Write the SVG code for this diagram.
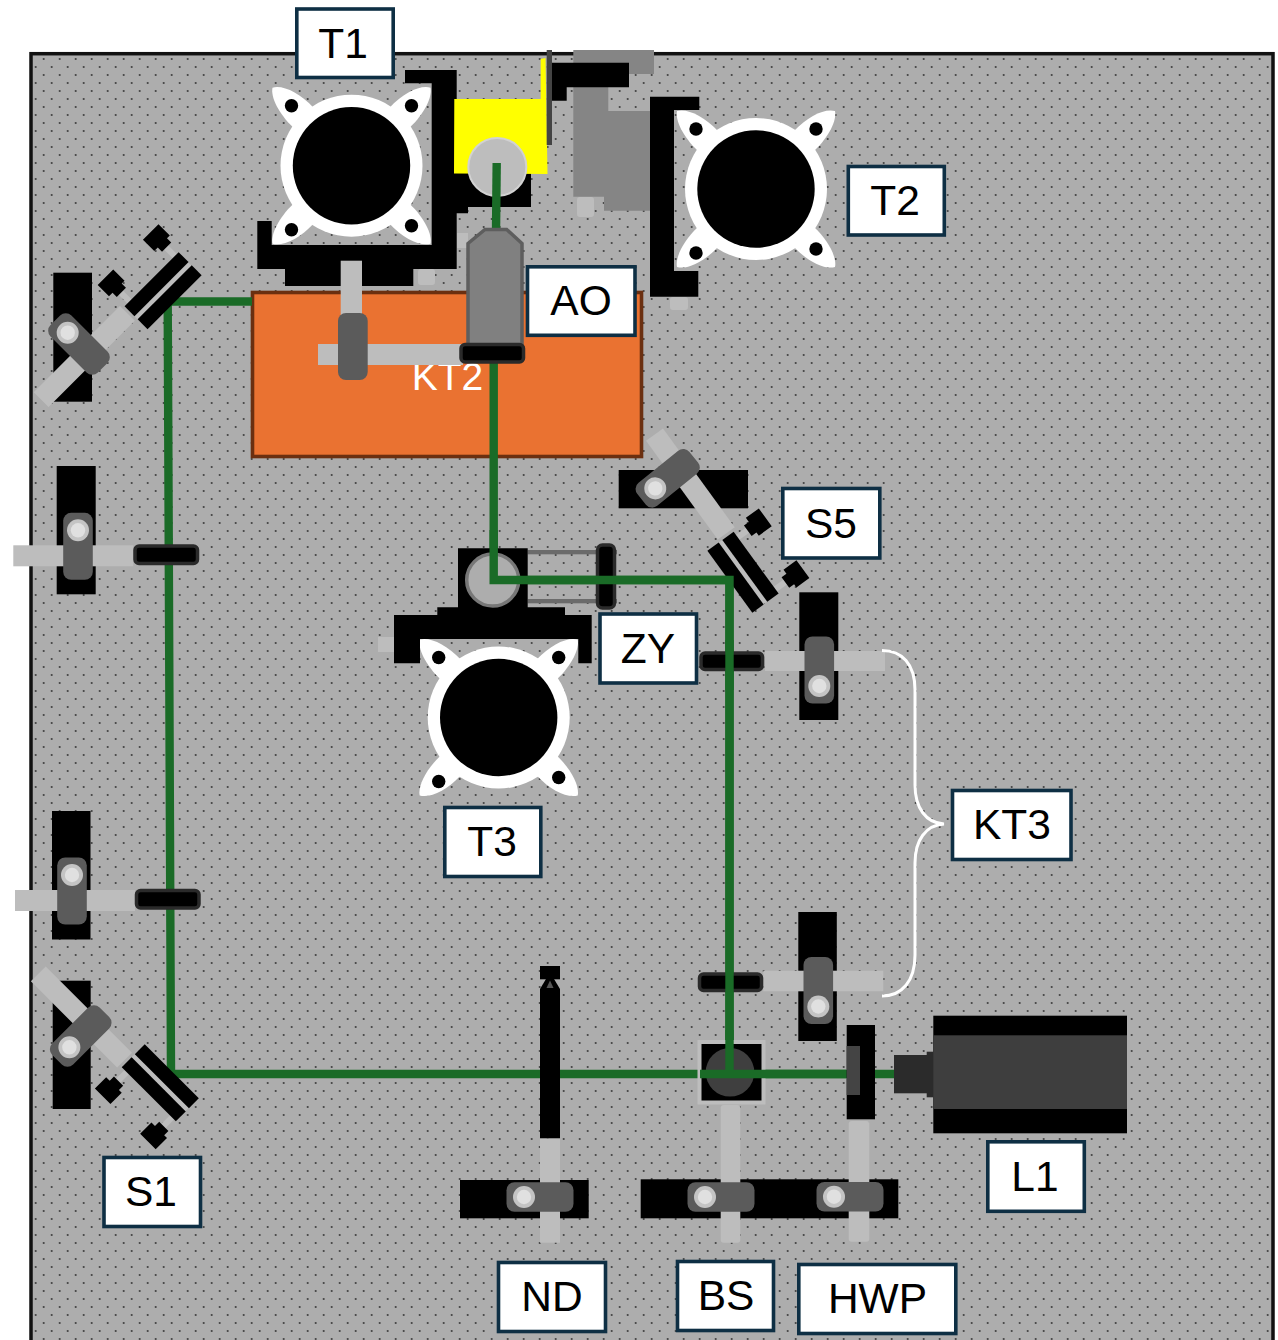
<svg xmlns="http://www.w3.org/2000/svg" width="1278" height="1340" viewBox="0 0 1278 1340">
<style>
.k{fill:#000}
.rod{fill:#bdbdbd}
.tab{fill:#bdbdbd}
.bar{fill:#000;stroke:#2a2a2a;stroke-width:3.5}
.beam{fill:none;stroke:#1a6b27;stroke-width:8.4;stroke-linejoin:miter}
.gr{fill:#858585}
.lb rect{fill:#fff;stroke:#0e2f44;stroke-width:3.6}
.lb text{font-family:"Liberation Sans",Arial,sans-serif;font-size:42.5px;fill:#000;text-anchor:middle}
</style>
<defs>
<pattern id="dots" width="16" height="16" patternUnits="userSpaceOnUse">
<rect width="16" height="16" fill="#adadad"/>
<circle cx="11.7" cy="11" r="1.1" fill="#444"/>
<circle cx="3.7" cy="3" r="1.1" fill="#444"/>
</pattern>
<g id="handle">
<rect x="-14.8" y="-33.5" width="29.6" height="67" rx="8" fill="#5b5b5b"/>
<circle cx="0" cy="-16" r="11" fill="#c4c4c4"/>
<circle cx="0" cy="-16" r="7.2" fill="#e0e0e0"/>
</g>
<path id="ear" d="M-79 -78C-69 -81 -52 -73 -38 -58L-58 -38C-73 -52 -81 -69 -79 -78Z" fill="#fff"/>
<g id="lens">
<use href="#ear"/>
<use href="#ear" transform="scale(-1 1)"/>
<use href="#ear" transform="scale(1 -1)"/>
<use href="#ear" transform="scale(-1 -1)"/>
<circle r="71" fill="#fff"/>
<circle r="58.7" fill="#000"/>
<circle cx="-60" cy="-60" r="6.7" fill="#000"/>
<circle cx="60" cy="-60" r="6.7" fill="#000"/>
<circle cx="-60" cy="64" r="6.7" fill="#000"/>
<circle cx="60" cy="60" r="6.7" fill="#000"/>
</g>
<g id="mirror">
<rect x="-125" y="-10.5" width="122" height="21" class="rod"/>
<rect x="0" y="7" width="76" height="5" class="rod"/>
<rect x="4" y="-22" width="6" height="16" class="rod"/>
<rect x="68" y="-22" width="6" height="16" class="rod"/>
<rect x="0" y="-7" width="76.5" height="14" class="k"/>
<rect x="0" y="11.5" width="76.5" height="14" class="k"/>
<path d="M-4 -41H18V-25H14V-19H1V-25H-4Z" class="k"/>
<path d="M60 -41H82V-25H78V-19H65V-25H60Z" class="k"/>
</g>
</defs>

<g id="board">
<rect x="31" y="53.7" width="1242" height="1300" fill="url(#dots)" stroke="#111" stroke-width="3.5"/>
</g>

<g id="T1-mount">
<use href="#lens" x="351.5" y="165.7"/>
<rect x="418" y="269" width="17" height="16" rx="3" class="tab"/>
<rect x="457" y="233" width="11" height="15" class="tab"/>
<path d="M405 70H456.7V173H531V207H468V213.3H456.7V269H413.3V286H285V269H257.3V221H271.7V245H431.7V83.3H405Z" class="k"/>
</g>

<g id="KT2">
<rect x="252.5" y="292.5" width="389" height="164" fill="#ea7231" stroke="#6b2f10" stroke-width="3.6"/>
<text x="447.5" y="389.5" font-family="'Liberation Sans',Arial,sans-serif" font-size="39" fill="#fff" text-anchor="middle">KT2</text>
<rect x="318" y="344" width="145" height="21" class="rod"/>
<rect x="340.7" y="260.7" width="21.3" height="62" class="rod"/>
<rect x="338" y="313" width="29.7" height="67" rx="8" fill="#5b5b5b"/>
</g>

<g id="T2-stage">
<path d="M573.3 50H654V74H629V87H608.3V111H654V210.7H604V196.7H573.3Z" class="gr"/>
<rect x="577" y="197" width="17" height="20" rx="3" class="tab"/>
<path d="M552 62.7H629V87.3H566.7V100.7H552Z" class="k"/>
<use href="#lens" x="756" y="189"/>
<rect x="670" y="297" width="18" height="13" rx="3" class="tab"/>
<path d="M650 96.7H699.3V110H674V271H698.3V296.7H650Z" class="k"/>
</g>

<g id="AO-stage">
<path d="M454.3 99H540.7V59L545.5 58L547.5 174L454 173.5Z" fill="#ff0"/>
<rect x="546.7" y="50" width="5.3" height="95" fill="#444"/>
<circle cx="497.3" cy="167" r="29" fill="#bdbdbd" stroke="#d2d2d2" stroke-width="2"/>
</g>

<g id="connectors">
<path class="beam" d="M172 1074H896"/>
<path class="beam" d="M729.5 1074V580H493.7V360"/>
<path class="beam" d="M496.7 163L496 232"/>
<path class="beam" d="M171 1074L167.7 301.5H252"/>
</g>

<g id="AO">
<path d="M485 229.5H506.7L522 243.5V345H468V243.5Z" fill="#808080" stroke="#5e5e5e" stroke-width="3.5"/>
<rect x="461" y="344.5" width="62.5" height="17.5" rx="4" class="bar"/>
</g>

<g id="mirror-top-left">
<rect x="53.3" y="272.7" width="38.7" height="129" class="k"/>
<use href="#mirror" transform="translate(129.5 311.2) rotate(-45)"/>
<use href="#handle" transform="translate(79 344) rotate(-45)"/>
</g>

<g id="mirror-mount-a">
<rect x="56.7" y="466" width="39" height="128.3" class="k"/>
<rect x="13.3" y="545.3" width="120" height="21" class="rod"/>
<use href="#handle" x="78" y="546.3"/>
<rect x="135" y="546" width="62.5" height="17.5" rx="4" class="bar"/>
</g>

<g id="mirror-mount-b">
<rect x="52" y="811" width="38.5" height="128.5" class="k"/>
<rect x="15" y="890" width="120" height="21" class="rod"/>
<use href="#handle" x="72" y="891"/>
<rect x="136.5" y="890.5" width="62.5" height="17.5" rx="4" class="bar"/>
</g>

<g id="S1-mirror">
<rect x="52.7" y="980.7" width="38" height="128.3" class="k"/>
<use href="#mirror" transform="translate(126.7 1062.3) rotate(45) scale(1 -1)"/>
<use href="#handle" transform="translate(80.7 1036) rotate(-135)"/>
</g>

<g id="S5-mirror">
<rect x="618.7" y="470" width="129.3" height="38.3" class="k"/>
<use href="#mirror" transform="translate(728 535.8) rotate(54)"/>
<use href="#handle" transform="translate(667.7 478.3) rotate(-129)"/>
</g>

<g id="T3-stage">
<use href="#lens" x="498.7" y="717.5"/>
<rect x="378" y="637" width="16" height="15" class="tab"/>
<rect x="527.7" y="550" width="89.3" height="4.3" fill="#6b6b6b"/>
<rect x="527.7" y="599" width="89.3" height="4.3" fill="#6b6b6b"/>
<path d="M394 615H437.3V607.3H458V548.3H527.7V607.3H565V615H591.7V663.3H578.3V639H420V663.3H394Z" class="k"/>
<circle cx="492.7" cy="580" r="26" fill="#adadad" stroke="#777" stroke-width="3.5"/>
<rect x="597.5" y="545" width="17" height="63" rx="5" class="bar"/>
</g>

<g id="beam-overlay">
<path class="beam" d="M729.5 690V580H493.7V530"/>
</g>

<g id="KT3-upper">
<rect x="799.3" y="592.3" width="39" height="127.7" class="k"/>
<rect x="765" y="651" width="120" height="20" class="rod"/>
<use href="#handle" transform="translate(819.3 670) rotate(180)"/>
<rect x="701" y="653" width="61.5" height="16.5" rx="4" class="bar"/>
</g>

<g id="KT3-lower">
<rect x="798.3" y="912" width="38.5" height="129" class="k"/>
<rect x="763.3" y="970.7" width="120" height="20.6" class="rod"/>
<use href="#handle" transform="translate(818.3 990.5) rotate(180)"/>
<rect x="699.5" y="974" width="62" height="16.5" rx="4" class="bar"/>
</g>

<g id="beam-overlay-2">
<path class="beam" d="M729.5 640V1074"/>
</g>

<g id="ND">
<rect x="460" y="1180" width="128.7" height="38.3" class="k"/>
<rect x="540" y="1138.3" width="20" height="104.4" class="rod"/>
<use href="#handle" transform="translate(540 1197) rotate(-90)"/>
<rect x="540" y="966" width="20" height="13.3" class="k"/>
<path d="M540 989L546 979H554L560 989V1138.3H540Z" class="k"/>
<path d="M546.5 988L550 980.5L553.5 988Z" fill="#555"/>
</g>

<g id="BS">
<rect x="640.7" y="1179.3" width="257.6" height="39" class="k"/>
<rect x="720.7" y="1105" width="19.6" height="137.7" rx="3" class="rod"/>
<use href="#handle" transform="translate(721 1197) rotate(-90)"/>
<rect x="699.5" y="1042" width="64" height="60.5" fill="#000" stroke="#bdbdbd" stroke-width="4"/>
<circle cx="730" cy="1072.3" r="24.3" fill="#3f3f3f"/>
</g>

<g id="HWP">
<rect x="848.7" y="1121" width="20.6" height="120.7" rx="3" class="rod"/>
<use href="#handle" transform="translate(850 1196.7) rotate(-90)"/>
<rect x="846.7" y="1025" width="28.3" height="94.3" class="k"/>
<rect x="846.7" y="1046" width="13.3" height="49" fill="#444"/>
</g>

<g id="beam-front">
<path class="beam" d="M729.5 1074V1030M700 1074H846"/>
</g>

<g id="L1">
<rect x="894" y="1055" width="33" height="38.3" fill="#2b2b2b"/>
<rect x="926.7" y="1051.7" width="6.6" height="45.6" fill="#2b2b2b"/>
<rect x="933.3" y="1015.7" width="193.7" height="117.6" class="k"/>
<rect x="933.3" y="1035.3" width="193.7" height="73.7" fill="#3e3e3e"/>
</g>

<path id="KT3-brace" d="M882 650.5C902 650.5 915 664 915 690V785C915 808 926 823 944 824C926 825 915 840 915 863V955C915 981 902 996 882 996" fill="none" stroke="#fff" stroke-width="3"/>

<g id="labels">
<g id="lb-T1" class="lb"><rect x="296.8" y="9" width="96.4" height="68.5"/><text x="343" y="57.5">T1</text></g>
<g id="lb-T2" class="lb"><rect x="848.3" y="166.5" width="96" height="68.5"/><text x="895" y="214.5">T2</text></g>
<g id="lb-AO" class="lb"><rect x="527.5" y="266.8" width="107.5" height="68.5"/><text x="581" y="315">AO</text></g>
<g id="lb-S5" class="lb"><rect x="782.8" y="488.5" width="97" height="69.5"/><text x="831" y="537.5">S5</text></g>
<g id="lb-ZY" class="lb"><rect x="600" y="614" width="96.5" height="69"/><text x="648" y="663">ZY</text></g>
<g id="lb-KT3" class="lb"><rect x="952.5" y="790.5" width="118.5" height="69"/><text x="1012" y="839">KT3</text></g>
<g id="lb-T3" class="lb"><rect x="444.8" y="807.5" width="96" height="69"/><text x="492" y="856">T3</text></g>
<g id="lb-S1" class="lb"><rect x="104" y="1157.5" width="96.5" height="69"/><text x="151" y="1206">S1</text></g>
<g id="lb-L1" class="lb"><rect x="987.8" y="1141.8" width="96.5" height="69.5"/><text x="1035" y="1190.5">L1</text></g>
<g id="lb-ND" class="lb"><rect x="498.5" y="1262.5" width="107" height="69"/><text x="552" y="1311">ND</text></g>
<g id="lb-BS" class="lb"><rect x="677.5" y="1261.5" width="96" height="69"/><text x="726" y="1310">BS</text></g>
<g id="lb-HWP" class="lb"><rect x="798.8" y="1264.5" width="157" height="69"/><text x="877.5" y="1313">HWP</text></g>
</g>
</svg>
